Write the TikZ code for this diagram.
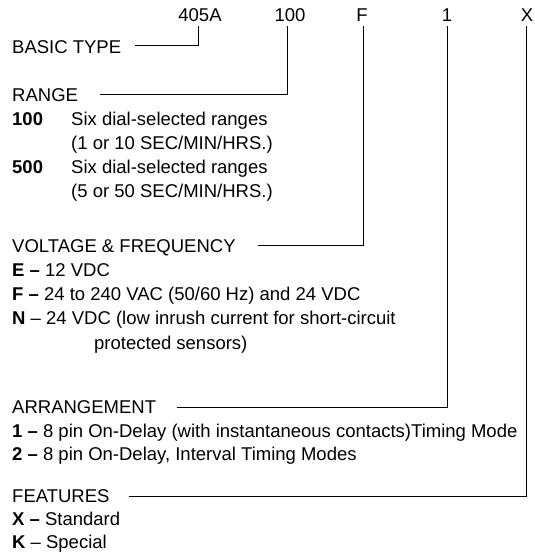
\documentclass[tikz,border=0pt]{standalone}
\usepackage{fontspec}
\setmainfont{Liberation Sans}
\begin{document}
\begin{tikzpicture}[x=1pt,y=-1pt,
  every node/.style={inner sep=0pt, font=\fontsize{18.5}{21}\selectfont},
  txt/.style={anchor=base west},
  hdr/.style={anchor=base},
  ln/.style={line width=0.8pt, black}]
\useasboundingbox (0,0) rectangle (535,558);

% header code
\node[hdr] (h1) at (200,21) {405A};
\node[hdr] (h2) at (290,21) {100};
\node[hdr] (h3) at (362,21) {F};
\node[hdr] (h4) at (447,21) {1};
\node[hdr] (h5) at (527,21) {X};

% labels
\node[txt] (basic) at (12,53) {BASIC TYPE};
\node[txt] (range) at (12,101) {RANGE};
\node[txt] (r100) at (12,125) {\textbf{100}};
\node[txt] (r100a) at (71,125) {Six dial-selected ranges};
\node[txt] (r100b) at (71,149) {(1 or 10 SEC/MIN/HRS.)};
\node[txt] (r500) at (12,173) {\textbf{500}};
\node[txt] (r500a) at (71,173) {Six dial-selected ranges};
\node[txt] (r500b) at (71,197) {(5 or 50 SEC/MIN/HRS.)};
\node[txt] (volt) at (12,252) {VOLTAGE \& FREQUENCY};
\node[txt] (ve) at (12,276) {\textbf{E –} 12 VDC};
\node[txt] (vf) at (12,300) {\textbf{F –} 24 to 240 VAC (50/60 Hz) and 24 VDC};
\node[txt] (vn) at (12,324) {\textbf{N} – 24 VDC (low inrush current for short-circuit};
\node[txt] (vn2) at (94,349) {protected sensors)};
\node[txt] (arr) at (12,413) {ARRANGEMENT};
\node[txt] (a1) at (12,437) {\textbf{1 –} 8 pin On-Delay (with instantaneous contacts)Timing Mode};
\node[txt] (a2) at (12,460) {\textbf{2 –} 8 pin On-Delay, Interval Timing Modes};
\node[txt] (feat) at (12,502) {FEATURES};
\node[txt] (fx) at (12,525) {\textbf{X –} Standard};
\node[txt] (fk) at (12,548) {\textbf{K} – Special};

% line ends
\coordinate (cBasic) at (135,45);
\coordinate (cRange) at (100,94);
\coordinate (cVolt) at (258,245);
\coordinate (cArr) at (177,407);
\coordinate (cFeat) at (129,496);

% connectors
\draw[ln] ([xshift=-2pt,yshift=-5pt]h1.base) |- (cBasic);
\draw[ln] ([xshift=-3pt,yshift=-5pt]h2.base) |- (cRange);
\draw[ln] ([xshift=1pt,yshift=-5pt]h3.base) |- (cVolt);
\draw[ln] ([yshift=-5pt]h4.base) |- (cArr);
\draw[ln] ([xshift=-1pt,yshift=-5pt]h5.base) |- (cFeat);
\end{tikzpicture}
\end{document}
